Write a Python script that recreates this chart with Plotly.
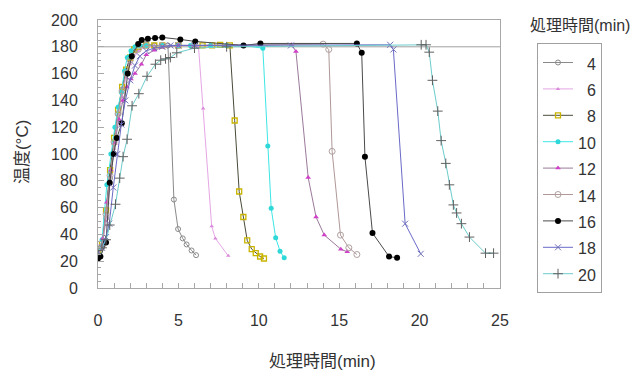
import plotly.graph_objects as go

# ---------------- data ----------------
SERIES_NAMES = ["4", "6", "8", "10", "12", "14", "16", "18", "20"]

T4_TIME = [0, 0.25, 0.5, 0.75, 1.0, 1.25, 1.5, 1.75, 2.0, 2.25, 2.5, 3.0, 3.5, 4.0, 4.35, 4.72, 4.98, 5.27, 5.51, 5.82, 6.1]
T4_TEMP = [24, 30, 52, 82, 108, 130, 148, 162, 172, 178, 181, 182, 181, 181, 181, 66, 44, 37, 32.5, 28, 24.5]

T6_TIME = [0, 0.25, 0.5, 0.75, 1.0, 1.25, 1.5, 1.75, 2.0, 2.5, 3.0, 3.5, 4.0, 5.0, 6.0, 6.25, 6.54, 7.07, 7.3, 8.1]
T6_TEMP = [23, 32, 50, 78, 104, 125, 143, 157, 167, 177, 180, 181, 181, 181, 181, 180, 134, 46, 37, 24]

T8_TIME = [0, 0.25, 0.5, 0.75, 1.0, 1.25, 1.5, 1.75, 2.0, 2.25, 2.5, 3.0, 3.5, 4.0, 5.0, 6.5, 7.1, 7.6, 8.2, 8.5, 8.78, 9.04, 9.28, 9.56, 9.81, 10.08, 10.32]
T8_TEMP = [25, 33, 58, 88, 112, 133, 150, 163, 172, 178, 180, 181, 181, 181, 181, 181, 181, 181.5, 181, 125, 72, 53, 35.5, 29, 26, 23.5, 22]

T10_TIME = [0, 0.25, 0.55, 0.8, 1.05, 1.25, 1.45, 1.65, 1.82, 2.05, 2.3, 2.6, 3.0, 4.0, 5.0, 5.75, 7.0, 8.0, 9.0, 10.25, 10.56, 10.77, 11.05, 11.32, 11.58]
T10_TEMP = [26, 36, 77, 100, 120, 135, 146, 162, 172, 177, 180, 181, 181, 181, 181, 181, 181, 181, 181, 179, 106, 59.5, 37.5, 27.5, 22.5]

T12_TIME = [0, 0.3, 0.55, 0.8, 1.05, 1.3, 1.55, 1.8, 2.05, 2.3, 2.7, 3.0, 3.5, 4.0, 5.0, 6.0, 12.05, 12.31, 13.07, 13.56, 14.07, 15.1, 15.5]
T12_TEMP = [23, 37, 64, 88, 108, 126, 140, 150, 156, 160, 167, 174, 177.5, 179.5, 181, 181, 181.5, 176.5, 82.5, 53, 39.5, 29, 27]

T14_TIME = [0, 0.25, 0.5, 0.75, 1.0, 1.25, 1.5, 1.75, 2.0, 2.5, 3.0, 4.0, 5.0, 6.0, 14.0, 14.35, 14.56, 15.08, 15.6, 16.1]
T14_TEMP = [24, 31, 55, 84, 109, 130, 147, 160, 170, 178, 181, 181, 181, 181, 182, 178, 102, 39.5, 30, 25]

T16_TIME = [0, 0.15, 0.5, 0.73, 0.98, 1.17, 1.48, 1.85, 2.1, 2.5, 2.72, 3.1, 3.55, 4.0, 5.12, 6.05, 9.05, 10.1, 16.1, 16.4, 16.6, 17.07, 18.1, 18.6]
T16_TEMP = [22, 23.5, 34, 78.5, 100, 112, 123, 160, 173, 182, 185, 186, 186.5, 187, 185.5, 184, 181, 182.5, 182.5, 175.5, 98, 41, 23.5, 22.5]

T18_TIME = [0, 0.25, 0.5, 0.7, 0.95, 1.2, 1.45, 1.7, 2.0, 2.3, 2.6, 3.0, 3.5, 4.0, 4.5, 5.0, 6.0, 12.0, 18.17, 18.37, 19.1, 20.07]
T18_TEMP = [27, 30, 38, 48, 75, 100, 122, 140, 155, 166, 173, 177, 179, 180, 181, 181, 181, 181, 181.5, 178, 48, 25.5]

T20_TIME = [0, 0.25, 0.5, 0.73, 1.09, 1.35, 1.56, 1.81, 2.12, 2.54, 3.05, 3.57, 3.9, 4.2, 4.5, 4.9, 6.0, 8.0, 20.1, 20.4, 20.6, 20.8, 21.13, 21.34, 21.63, 21.85, 22.1, 22.3, 22.6, 23.1, 24.1, 24.6]
T20_TEMP = [28, 30, 36, 47, 62.5, 82, 98, 111, 136, 145, 158, 167, 170, 171, 172, 175.5, 179, 180, 181.5, 181.5, 176, 155, 132, 110, 93, 77, 62, 56, 48, 38, 26, 26]

REF_TEMP = 180

X_TICKS = [0, 5, 10, 15, 20, 25]
Y_TICKS = [0, 20, 40, 60, 80, 100, 120, 140, 160, 180, 200]

X_TITLE = "処理時間(min)"
Y_TITLE = "温度(°C)"
LEGEND_TITLE = "処理時間(min)"

# ---------------- styles ----------------
TIMES = [T4_TIME, T6_TIME, T8_TIME, T10_TIME, T12_TIME, T14_TIME, T16_TIME, T18_TIME, T20_TIME]
TEMPS = [T4_TEMP, T6_TEMP, T8_TEMP, T10_TEMP, T12_TEMP, T14_TEMP, T16_TEMP, T18_TEMP, T20_TEMP]

STYLES = [
    dict(line="#8a8a8a", symbol="circle-open", mcolor="#8a8a8a", size=5, mline=1),
    dict(line="#e6a6e6", symbol="triangle-up", mcolor="#d98ad9", size=4, mline=0),
    dict(line="#4a4a3a", symbol="square-open", mcolor="#c8b400", size=5, mline=1.3),
    dict(line="#3ee6e6", symbol="circle", mcolor="#2fd8d8", size=5, mline=0),
    dict(line="#9a7a9a", symbol="triangle-up", mcolor="#d040c8", size=5, mline=0),
    dict(line="#b09898", symbol="circle-open", mcolor="#b0a0a0", size=6, mline=1),
    dict(line="#4a4a4a", symbol="circle", mcolor="#000000", size=6, mline=0),
    dict(line="#6a6ac8", symbol="x-thin-open", mcolor="#7070b8", size=6, mline=1),
    dict(line="#6ccccc", symbol="cross-thin-open", mcolor="#606060", size=7, mline=1),
]

FONT = "Liberation Sans, Arial, Noto Sans CJK JP, sans-serif"
TEXT_COLOR = "#333333"

fig = go.Figure()
for name, xs, ys, st in zip(SERIES_NAMES, TIMES, TEMPS, STYLES):
    label = name if len(name) == 2 else "\u2007" + name
    fig.add_trace(go.Scatter(
        x=xs, y=ys, mode="lines+markers",
        name='<span style="font-size:16px">' + label + '</span>',
        legendgroup=name,
        line=dict(color=st["line"], width=1),
        marker=dict(symbol=st["symbol"], size=st["size"], color=st["mcolor"],
                    line=dict(color=st["mcolor"], width=st["mline"])),
    ))

fig.add_shape(type="line", xref="paper", x0=0, x1=1, yref="y", y0=REF_TEMP, y1=REF_TEMP,
              line=dict(color="#a0a0a0", width=1), layer="below")

axis_common = dict(
    showgrid=False, zeroline=False, showline=True, linecolor="#a8a8a8", linewidth=1,
    mirror=True, ticks="inside", tickcolor="#a8a8a8",
    tickfont=dict(family=FONT, size=16, color=TEXT_COLOR),
)

fig.update_layout(
    width=636, height=376,
    margin=dict(l=98, r=136, t=12, b=88),
    paper_bgcolor="white", plot_bgcolor="white",
    font=dict(family=FONT, color=TEXT_COLOR),
    xaxis=dict(range=[0, 25], tickvals=X_TICKS, ticklen=5, ticklabelstandoff=18,
               minor=dict(dtick=1, ticks="inside", ticklen=5, tickcolor="#a8a8a8"),
               **axis_common),
    yaxis=dict(range=[0, 200], tickvals=Y_TICKS, ticklen=6, ticklabelstandoff=16,
               minor=dict(dtick=5, ticks="inside", ticklen=3, tickcolor="#a8a8a8"),
               **axis_common),
    showlegend=True,
    legend=dict(
        x=(537 - 98) / 402, xanchor="left", y=(288 - 36) / 276, yanchor="top",
        bordercolor="#a0a0a0", borderwidth=1, bgcolor="white",
        font=dict(family=FONT, size=18, color=TEXT_COLOR),
        itemwidth=30, tracegroupgap=0,
    ),
    annotations=[
        dict(text=X_TITLE, xref="paper", yref="paper", x=(322 - 98) / 402, y=(288 - 364) / 276,
             showarrow=False, font=dict(family=FONT, size=17, color=TEXT_COLOR),
             xanchor="center", yanchor="middle"),
        dict(text=Y_TITLE, xref="paper", yref="paper", x=(22 - 98) / 402, y=(288 - 148) / 276,
             showarrow=False, textangle=-90, font=dict(family=FONT, size=17, color=TEXT_COLOR),
             xanchor="center", yanchor="middle"),
        dict(text=LEGEND_TITLE, xref="paper", yref="paper", x=(580 - 98) / 402, y=(288 - 18) / 276,
             showarrow=False, font=dict(family=FONT, size=16, color=TEXT_COLOR),
             xanchor="center", yanchor="middle"),
    ],
)

fig.write_html("out.html")
